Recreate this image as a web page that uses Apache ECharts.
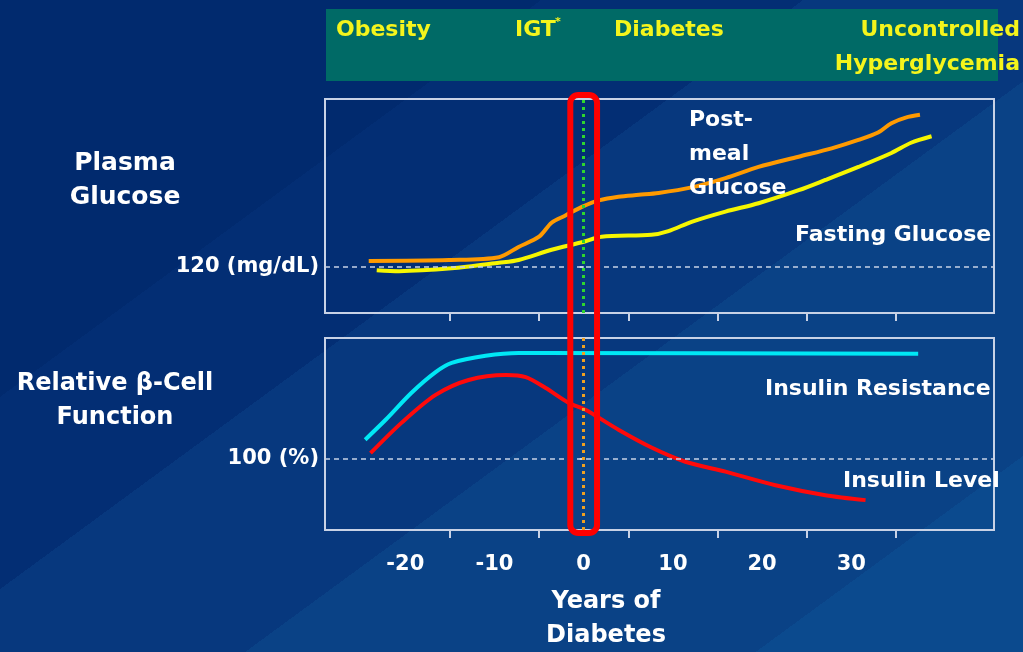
<!DOCTYPE html>
<html>
<head>
<meta charset="utf-8">
<script src="https://cdn.jsdelivr.net/npm/echarts@6/dist/echarts.min.js"></script>
<style>
html, body { margin: 0; padding: 0; }
#divChart { width: 1023px; height: 652px; }
</style>
</head>
<body>
<div id="divChart"></div>
<script>
// values (years of diabetes vs relative level)
var postMealYears = [-24.1, -15.1, -9.5, -7.3, -5.0, -3.6, -2.0, -0.2, 1.7, 3.9, 6.2, 8.4, 12.1, 15.9, 19.6, 24.1, 27.8, 30.8, 33.0, 34.5, 36.1, 37.7];
var postMealGlucose = [126, 127, 130, 141, 152, 167, 175, 184, 191, 195, 197, 199, 205, 215, 227, 238, 247, 256, 264, 274, 280, 283];

var fastingYears = [-23.2, -20.7, -14.8, -9.5, -7.3, -3.6, -0.2, 2.0, 7.6, 9.5, 12.1, 15.9, 19.6, 24.1, 27.1, 30.8, 34.5, 36.7, 39.0];
var fastingGlucose = [116, 115, 118, 124, 127, 138, 146, 152, 154, 158, 168, 179, 188, 202, 213, 227, 242, 253, 260];

var resistanceYears = [-24.5, -22.2, -19.3, -16.6, -14.8, -11.0, -7.3, -5.0, 37.5];
var insulinResistance = [127, 155, 193, 222, 235, 245, 249, 249, 248];

var insulinYears = [-23.9, -20.4, -16.6, -12.9, -8.7, -6.5, -4.3, -1.7, 0.2, 3.9, 7.6, 11.4, 15.9, 21.5, 27.1, 31.6];
var insulinLevel = [108, 151, 190, 211, 218, 215, 200, 179, 169, 141, 116, 96, 82, 63, 49, 42];

var stageNames = ['Obesity', 'IGT', 'Diabetes', 'Uncontrolled\nHyperglycemia'];
var yearLabels = [-20, -10, 0, 10, 20, 30];
var yearTicks = [-15, -5, 5, 15, 25, 35];
var glucoseRef = 120;
var betaRef = 100;
var onsetYear = 0;

var FONT = '"DejaVu Sans", "Liberation Sans", sans-serif';
var myChart;

function pairs(xs, ys) {
    var r = [];
    for (var i = 0; i < xs.length; i++) {
        r.push([xs[i], ys[i]]);
    }
    return r;
}

function label(text, x, y, size, color, align) {
    return {
        type: 'text',
        x: x,
        y: y,
        z: 10,
        style: {
            text: text,
            fill: color || '#ffffff',
            font: 'bold ' + size + 'px ' + FONT,
            align: align || 'left',
            verticalAlign: 'middle',
            lineHeight: 34,
            textShadowColor: 'rgba(0,0,30,0.6)',
            textShadowOffsetX: 1,
            textShadowOffsetY: 1
        }
    };
}

function lineSeries(name, data, color, xi) {
    return {
        name: name,
        type: 'line',
        xAxisIndex: xi,
        yAxisIndex: xi,
        data: data,
        smooth: 0.3,
        showSymbol: false,
        lineStyle: { color: color, width: 4 },
        z: 3
    };
}

function refLine(series, value, vColor) {
    series.markLine = {
        silent: true,
        symbol: 'none',
        label: { show: false },
        data: [
            { yAxis: value, lineStyle: { color: '#c8d2e6', type: [5, 4], width: 1.5 } },
            { xAxis: onsetYear, lineStyle: { color: vColor, type: [3, 4], width: 3 } }
        ]
    };
    return series;
}

function xAxisOf(grid, showLabels) {
    return {
        type: 'value',
        gridIndex: grid,
        min: -29,
        max: 46,
        axisLine: { show: false },
        splitLine: { show: false },
        axisTick: { show: true, customValues: yearTicks, length: 8, lineStyle: { color: '#c8d2e6', width: 2 } },
        axisLabel: {
            show: showLabels,
            customValues: yearLabels,
            margin: 24,
            color: '#ffffff',
            fontFamily: FONT,
            fontWeight: 'bold',
            fontSize: 21,
            textShadowColor: 'rgba(0,0,30,0.6)',
            textShadowOffsetX: 1,
            textShadowOffsetY: 1
        }
    };
}

function yAxisOf(grid, min, max, ref, text) {
    return {
        type: 'value',
        gridIndex: grid,
        min: min,
        max: max,
        axisLine: { show: false },
        splitLine: { show: false },
        axisTick: { show: true, customValues: [ref], length: 4, lineStyle: { color: '#c8d2e6', width: 2 } },
        axisLabel: {
            customValues: [ref],
            formatter: function () { return text; },
            margin: 6,
            color: '#ffffff',
            fontFamily: FONT,
            fontWeight: 'bold',
            fontSize: 21,
            textShadowColor: 'rgba(0,0,30,0.6)',
            textShadowOffsetX: 1,
            textShadowOffsetY: 1
        }
    };
}

var baseGraphics = [
    { type: 'rect', shape: { x: 326, y: 9, width: 672, height: 72 }, style: { fill: '#006a66' }, z: 1 },
    label(stageNames[0], 336, 30, 22, '#f4f41c'),
    label(stageNames[1], 515, 30, 22, '#f4f41c'),
    label('*', 555, 22, 11, '#f4f41c'),
    label(stageNames[2], 614, 30, 22, '#f4f41c'),
    label(stageNames[3], 1020, 47, 22, '#f4f41c', 'right'),
    label('Plasma\nGlucose', 125, 180, 25, '#ffffff', 'center'),
    label('Relative \u03b2-Cell\nFunction', 115, 401, 24, '#ffffff', 'center'),
    label('Post-\nmeal\nGlucose', 689, 154, 22),
    label('Fasting Glucose', 795, 235, 22),
    label('Insulin Resistance', 765, 389, 22),
    label('Insulin Level', 843, 481, 22),
    label('Years of\nDiabetes', 606, 619, 24, '#ffffff', 'center')
];

function initChart() {
    var gridStyle = { show: true, borderColor: '#c8d2e6', borderWidth: 2, left: 325, right: 29 };
    var option = {
        animation: false,
        backgroundColor: new echarts.graphic.LinearGradient(0, 0, 669, 912, [
            { offset: 0, color: '#012a6e' },
            { offset: 0.283, color: '#012a6e' },
            { offset: 0.283, color: '#032e74' },
            { offset: 0.42, color: '#032e74' },
            { offset: 0.42, color: '#07387e' },
            { offset: 0.593, color: '#07387e' },
            { offset: 0.593, color: '#0a4286' },
            { offset: 0.86, color: '#0a4286' },
            { offset: 0.86, color: '#0b4a8e' },
            { offset: 1, color: '#0b4a8e' }
        ], true),
        grid: [
            echarts.util.extend({ top: 99, height: 214 }, gridStyle),
            echarts.util.extend({ top: 338, height: 192 }, gridStyle)
        ],
        xAxis: [xAxisOf(0, false), xAxisOf(1, true)],
        yAxis: [
            yAxisOf(0, 70, 300, glucoseRef, '120 (mg/dL)'),
            yAxisOf(1, 0, 270, betaRef, '100 (%)')
        ],
        graphic: baseGraphics,
        series: [
            refLine(lineSeries('Post-meal Glucose', pairs(postMealYears, postMealGlucose), '#ff9a00', 0), glucoseRef, '#2ed62e'),
            lineSeries('Fasting Glucose', pairs(fastingYears, fastingGlucose), '#f6f600', 0),
            refLine(lineSeries('Insulin Resistance', pairs(resistanceYears, insulinResistance), '#00e8f5', 1), betaRef, '#f0a020'),
            lineSeries('Insulin Level', pairs(insulinYears, insulinLevel), '#ff0a0a', 1)
        ]
    };
    myChart.setOption(option);

    // red frame round the year of diagnosis, across both panels
    var x0 = myChart.convertToPixel({ xAxisIndex: 0 }, onsetYear - 1.5);
    var x1 = myChart.convertToPixel({ xAxisIndex: 0 }, onsetYear + 1.5);
    var y0 = myChart.convertToPixel({ yAxisIndex: 0 }, 300) - 4;
    var y1 = myChart.convertToPixel({ yAxisIndex: 1 }, 0) + 3;
    myChart.setOption({
        graphic: baseGraphics.concat([{
            type: 'rect',
            z: 100,
            shape: { x: x0, y: y0, width: x1 - x0, height: y1 - y0, r: 8 },
            style: { fill: 'none', stroke: '#ff0000', lineWidth: 6 }
        }])
    });
}

myChart = echarts.init(document.getElementById('divChart'));
initChart();
</script>
</body>
</html>
